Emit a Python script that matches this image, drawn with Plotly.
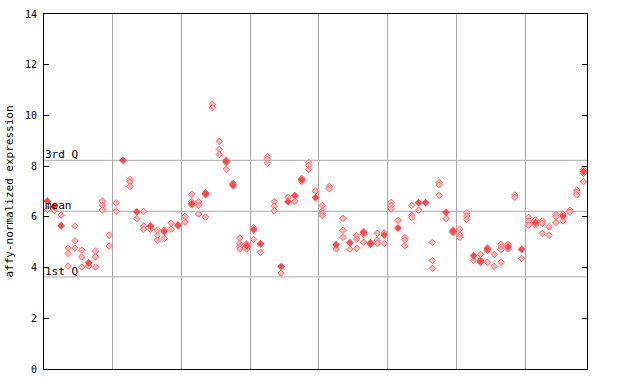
import plotly.graph_objects as go

# Per-sample expression values (79 samples, 8 groups separated by grid lines)
hollow_values = [
    [6.30], [6.26], [6.07], [4.77, 4.56, 4.06], [5.64, 5.05, 4.77],
    [4.69, 4.42, 4.02], [4.06], [4.65, 4.42, 4.02], [6.62, 6.45, 6.27], [5.28, 4.85],
    [6.55, 6.22], [], [7.47, 7.38, 7.20], [5.93], [6.21, 5.64, 5.51],
    [5.51], [5.48, 5.27, 5.08], [5.48, 5.15], [5.75, 5.51], [5.64],
    [6.02, 5.79], [6.89, 6.60, 6.47], [6.59, 6.46, 6.11], [6.95, 6.87, 5.99], [10.44, 10.30],
    [8.98, 8.66, 8.46], [8.24, 8.14, 7.88], [7.32, 7.22], [5.16, 4.94, 4.82, 4.73], [4.94, 4.73],
    [5.57, 5.11], [4.60], [8.37, 8.27, 8.11], [6.60, 6.42, 6.24], [3.78],
    [6.77], [6.61], [7.52, 7.40], [8.15, 8.03, 7.87], [7.02],
    [6.45, 6.23, 6.14, 6.05], [7.20, 7.11], [4.73], [5.94, 5.47, 5.19], [4.73],
    [5.26, 5.12, 4.76], [5.43, 5.30, 5.00], [4.99, 4.91], [5.35, 5.08, 4.96], [5.37, 4.95],
    [6.57, 6.44, 6.31], [5.86], [5.18, 5.09, 4.86], [6.45, 6.06, 5.97], [6.26],
    [], [4.99, 4.28, 3.97], [7.35, 7.26, 6.85], [5.93], [5.48, 5.38],
    [5.52, 5.28, 5.19], [6.16, 6.03, 5.90], [4.28], [4.52, 4.29, 4.21], [4.78, 4.68, 4.21],
    [4.52, 4.05], [4.92, 4.81, 4.71, 4.21], [4.92, 4.73], [6.86, 6.77], [4.36],
    [5.98, 5.83, 5.67], [5.88, 5.68], [5.84, 5.74, 5.35], [5.61, 5.27], [6.09, 6.01, 5.78],
    [6.11, 5.84], [6.26, 6.19], [7.06, 6.97, 6.87], [7.87, 7.72, 7.39],
]
filled_values = [
    [6.62], [6.40], [5.65], [], [],
    [], [4.19], [], [], [],
    [], [8.23], [], [6.20], [],
    [5.64], [], [5.42], [], [5.68],
    [], [6.52], [], [6.91], [],
    [], [8.19], [7.27], [], [4.86],
    [5.49], [4.94], [], [], [4.04],
    [6.60], [6.84], [7.46], [], [6.76],
    [], [], [4.90], [], [4.98],
    [], [5.38], [4.95], [], [5.28],
    [], [5.56], [], [], [6.56],
    [6.56], [], [], [6.18], [5.43],
    [], [], [4.47], [4.25], [4.73],
    [], [], [4.82], [], [4.72],
    [], [5.77], [], [], [],
    [6.03], [], [], [7.79],
]
group_boundaries = [9.5, 19.5, 29.5, 39.5, 49.5, 59.5, 69.5]
quartile_labels = ["3rd Q", "mean", "1st Q"]
quartile_values = [8.23, 6.22, 3.63]
y_ticks = [0, 2, 4, 6, 8, 10, 12, 14]

hx, hy, fx, fy = [], [], [], []
for i, vals in enumerate(hollow_values):
    for v in vals:
        hx.append(i)
        hy.append(v)
for i, vals in enumerate(filled_values):
    for v in vals:
        fx.append(i)
        fy.append(v)

n = len(hollow_values)
fig = go.Figure()
fig.add_trace(go.Scatter(
    x=hx, y=hy, mode="markers",
    marker=dict(symbol="diamond", size=5, color="rgba(255,185,185,1)",
                line=dict(color="#ff6a6a", width=1)),
    hoverinfo="y", showlegend=False))
fig.add_trace(go.Scatter(
    x=fx, y=fy, mode="markers",
    marker=dict(symbol="diamond", size=6, color="#ff4a4a", line=dict(width=0)),
    hoverinfo="y", showlegend=False))

for lab, val in zip(quartile_labels, quartile_values):
    fig.add_shape(type="line", xref="paper", x0=0, x1=1, yref="y", y0=val, y1=val,
                  line=dict(color="#a8a8a8", width=1), layer="below")
    fig.add_annotation(x=0, xref="paper", y=val, yref="y", text=lab, showarrow=False,
                       xanchor="left", yanchor="bottom", xshift=-1, yshift=-3,
                       font=dict(family="DejaVu Sans Mono", size=11, color="black"))

fig.update_layout(
    width=640, height=384,
    margin=dict(l=44, r=53, t=14, b=15, autoexpand=False),
    plot_bgcolor="white", paper_bgcolor="white",
    font=dict(family="DejaVu Sans Mono", size=10, color="black"),
    xaxis=dict(range=[-0.5, n - 0.5], tickvals=group_boundaries, showticklabels=False,
               ticks="", showgrid=True, gridcolor="#a8a8a8", gridwidth=1, automargin=False,
               zeroline=False, showline=True, linecolor="black", linewidth=1, mirror=True),
    yaxis=dict(range=[0, 14], tickvals=y_ticks, ticks="inside", ticklen=5,
               tickcolor="black", showgrid=False, zeroline=False, showline=True,
               linecolor="black", linewidth=1, mirror="allticks", automargin=False,
               ticklabelstandoff=4,
               title=dict(text="affy-normalized expression", standoff=9,
                          font=dict(family="DejaVu Sans Mono", size=11))),
)
fig.write_html("out.html", config={"displayModeBar": False},
               post_script="document.body.style.margin='0px';document.body.style.overflow='hidden';")
